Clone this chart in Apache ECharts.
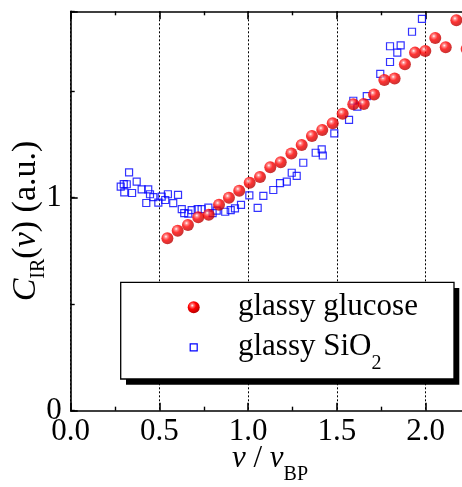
<!DOCTYPE html>
<html><head><meta charset="utf-8">
<script src="https://cdn.jsdelivr.net/npm/echarts@6.0.0/dist/echarts.min.js"></script>
<style>html,body{margin:0;padding:0;background:#fff}#c{width:462px;height:487px}</style>
</head><body><div id="c"></div>
<script>
// ---- data ----
const glucoseX = [0.545,0.603,0.661,0.719,0.778,0.836,0.892,0.950,1.009,1.067,1.125,1.184,1.244,1.302,1.360,1.418,1.477,1.533,1.593,1.652,1.710,1.768,1.826,1.884,1.941,1.999,2.055,2.114,2.174,2.232];
const glucoseY = [0.809,0.845,0.872,0.908,0.920,0.967,1.000,1.033,1.070,1.097,1.143,1.166,1.207,1.247,1.290,1.318,1.349,1.394,1.439,1.440,1.484,1.553,1.559,1.626,1.681,1.689,1.750,1.706,1.833,1.698];
const sio2X = [0.282,0.299,0.316,0.302,0.329,0.346,0.372,0.400,0.437,0.447,0.466,0.426,0.494,0.513,0.533,0.548,0.578,0.605,0.626,0.640,0.663,0.682,0.716,0.738,0.776,0.800,0.823,0.871,0.902,0.926,0.960,1.007,1.054,1.086,1.142,1.180,1.218,1.246,1.274,1.311,1.381,1.415,1.421,1.486,1.569,1.593,1.616,1.669,1.745,1.800,1.800,1.841,1.860,1.924,1.980];
const sio2Y = [1.052,1.064,1.063,1.025,1.119,1.022,1.075,1.039,1.039,1.016,1.003,0.975,0.977,1.005,0.989,1.016,0.974,1.013,0.946,0.927,0.925,0.942,0.946,0.946,0.953,0.927,0.939,0.934,0.942,0.950,0.966,1.011,0.952,1.008,1.036,1.068,1.075,1.117,1.102,1.164,1.211,1.227,1.198,1.302,1.365,1.455,1.427,1.477,1.581,1.637,1.711,1.681,1.715,1.779,1.839];
const xTickLabels = ['0.0','0.5','1.0','1.5','2.0'];
const yTickLabels = ['0','1'];
const seriesNames = ['glassy glucose','glassy SiO2'];

// ---- layout ----
const FONT = "'Liberation Serif', 'Times New Roman', serif";
const L = 70.7, T = 11.3, PXX = 177.4, PXY = 213;
const XMAX = 2.5, YMAX = 1.875;
const black = '#000';
const sphere = () => new echarts.graphic.RadialGradient(0.38, 0.35, 0.7, [
  {offset: 0, color: '#ffffff'},
  {offset: 0.18, color: '#ff7070'},
  {offset: 0.45, color: '#ff0000'},
  {offset: 1, color: '#b00000'}
]);
const axLine = {onZero: false, lineStyle: {color: black, width: 1.6}};

const chart = echarts.init(document.getElementById('c'), null, {renderer: 'canvas'});
const option = {
  animation: false,
  backgroundColor: '#fff',
  grid: {left: L, top: T, width: XMAX * PXX, height: YMAX * PXY, containLabel: false, outerBoundsMode: 'none'},
  xAxis: [{
    type: 'value', min: 0, max: XMAX, interval: 0.5, position: 'bottom',
    axisLine: axLine,
    axisTick: {inside: true, length: 8, lineStyle: {color: black, width: 1.6}},
    minorTick: {show: true, splitNumber: 2, length: 4, lineStyle: {color: black, width: 1.4}},
    axisLabel: {fontFamily: FONT, fontSize: 31, color: black, margin: 6,
      formatter: v => { const i = Math.round(v / 0.5); return (Math.abs(v - i * 0.5) < 1e-6 && i < xTickLabels.length) ? xTickLabels[i] : ''; }},
    splitLine: {show: true, lineStyle: {color: black, width: 1, type: [2, 2]}}
  }, {
    type: 'value', min: 0, max: XMAX, interval: 0.5, position: 'top',
    axisLine: axLine,
    axisTick: {inside: true, length: 8, lineStyle: {color: black, width: 1.6}},
    minorTick: {show: true, splitNumber: 2, length: 4, lineStyle: {color: black, width: 1.4}},
    axisLabel: {show: false}, splitLine: {show: false}
  }],
  yAxis: [{
    type: 'value', min: 0, max: YMAX, interval: 1, position: 'left',
    axisLine: axLine,
    axisTick: {inside: true, length: 7, lineStyle: {color: black, width: 1.6}},
    axisLabel: {fontFamily: FONT, fontSize: 31, color: black, margin: 9,
      formatter: v => { const i = Math.round(v); return (Math.abs(v - i) < 1e-6 && i < yTickLabels.length) ? yTickLabels[i] : ''; }},
    splitLine: {show: false}
  }, {
    type: 'value', min: 0, max: YMAX, interval: 0.5, position: 'left',
    axisLine: {show: false, onZero: false},
    axisTick: {inside: true, length: 4, lineStyle: {color: black, width: 1.4}},
    axisLabel: {show: false}, splitLine: {show: false}
  }],
  series: [{
    name: seriesNames[1], type: 'scatter', xAxisIndex: 0, yAxisIndex: 0, z: 3,
    data: sio2X.map((x, i) => [x, sio2Y[i]]),
    symbol: 'rect', symbolSize: 7,
    itemStyle: {color: 'rgba(0,0,0,0)', borderColor: '#0000ff', borderWidth: 1.2}
  }, {
    name: seriesNames[0], type: 'scatter', xAxisIndex: 0, yAxisIndex: 0, z: 4,
    data: glucoseX.map((x, i) => [x, glucoseY[i]]),
    symbol: 'circle', symbolSize: 12,
    itemStyle: {color: sphere()}
  }],
  graphic: [
    {type: 'rect', z: 100, shape: {x: 126, y: 288, width: 333.3, height: 96.7}, style: {fill: '#000'}},
    {type: 'rect', z: 101, shape: {x: 120.7, y: 282.3, width: 333.3, height: 96.7}, style: {fill: '#fff', stroke: '#000', lineWidth: 1.3}},
    {type: 'circle', z: 102, shape: {cx: 193.7, cy: 307.3, r: 6}, style: {fill: sphere()}},
    {type: 'rect', z: 102, shape: {x: 190.2, y: 343.8, width: 7, height: 7}, style: {fill: 'none', stroke: '#0000ff', lineWidth: 1.2}},
    {type: 'text', z: 102, x: 238, y: 306.7, style: {text: seriesNames[0], font: '31px ' + FONT, fill: black, align: 'left', verticalAlign: 'middle'}},
    {type: 'text', z: 102, x: 238, y: 346.7, style: {
      text: '{n|glassy SiO}{s|2}', fill: black, align: 'left', verticalAlign: 'middle',
      rich: {n: {fontSize: 31, fontFamily: FONT, fill: black}, s: {fontSize: 20, fontFamily: FONT, fill: black, padding: [34, 0, 0, 0]}}}},
    {type: 'text', z: 102, x: 26, y: 221, rotation: Math.PI / 2, style: {
      text: '{c|C}{s|IR}{n|(}{i|ν}{n|) (a.u.)}', fill: black, align: 'center', verticalAlign: 'middle',
      rich: {c: {fontSize: 34, fontStyle: 'italic', fontFamily: FONT, fill: black},
             s: {fontSize: 20, fontFamily: FONT, fill: black, padding: [26, 0, 0, 0]},
             n: {fontSize: 34, fontFamily: FONT, fill: black},
             i: {fontSize: 34, fontStyle: 'italic', fontFamily: FONT, fill: black}}}},
    {type: 'text', z: 102, x: 270, y: 459, style: {
      text: '{i|ν}{n| / }{i|ν}{s|BP}', fill: black, align: 'center', verticalAlign: 'middle',
      rich: {i: {fontSize: 31, fontStyle: 'italic', fontFamily: FONT, fill: black},
             n: {fontSize: 31, fontFamily: FONT, fill: black},
             s: {fontSize: 20, fontFamily: FONT, fill: black, padding: [32, 0, 0, 0]}}}}
  ]
};
chart.setOption(option);
</script>
</body></html>
